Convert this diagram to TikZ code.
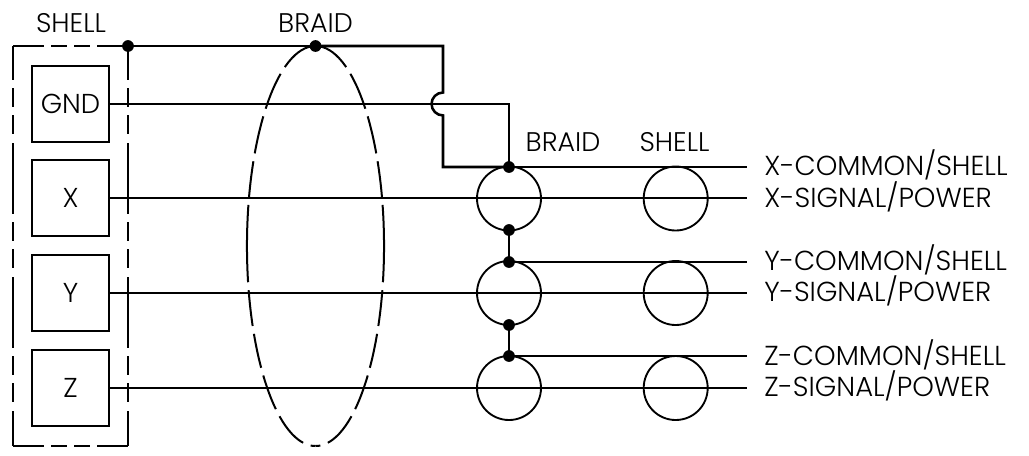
\documentclass[tikz,border=0pt]{standalone}
\usepackage{fontspec}
\setmainfont{Poppins Light}
\usetikzlibrary{calc}
\tikzset{
  wire/.style={line width=1.5pt,line cap=butt},
  braidwire/.style={line width=1.9pt,line join=miter},
  unit/.style={draw=black,line width=1.4pt,minimum width=57.5pt,minimum height=57.5pt,inner sep=0pt,font=\fontsize{20.5}{20.5}\selectfont},
  ring/.style={circle,draw=black,line width=1.4pt,minimum size=48pt,inner sep=0pt},
  dot/.style={circle,fill=black,minimum size=8.8pt,inner sep=0pt},
  lab/.style={inner sep=0pt,font=\fontsize{20.2}{20.2}\selectfont,anchor=base},
  rlab/.style={inner sep=0pt,font=\fontsize{20.6}{20.6}\selectfont,anchor=base west},
  shellv/.style={line width=1.5pt,dash pattern=on 53.25pt off 6pt on 14.25pt off 6pt on 14.25pt off 6.75pt,dash phase=27.75pt},
  shellh/.style={line width=1.5pt,dash pattern=on 23.25pt off 5.25pt on 12pt off 5.25pt on 12pt off 5.25pt on 23.25pt off 10pt},
  bra/.style={line width=1.5pt,dash pattern=on 29pt off 6pt on 28.5pt off 6pt on 28.5pt off 6pt on 27pt off 6pt on 58pt off 6pt on 27pt off 6pt on 26pt off 6pt on 27pt off 6pt on 27pt off 6pt on 13pt off 100pt},
}
\begin{document}
\begin{tikzpicture}[x=0.75pt,y=-0.75pt]
\useasboundingbox (0,0) rectangle (1029,455);
% shell corners
\coordinate (stl) at (13,46);
\coordinate (str) at (128,46);
\coordinate (sbl) at (13,446);
\coordinate (sbr) at (128,446);
% boxes
\node[unit] (gnd) at (70.5,104) {GND};
\node[unit] (x) at (70.5,198) {X};
\node[unit] (y) at (70.5,293) {Y};
\node[unit] (z) at (70.5,388) {Z};
% rings
\node[ring] (bx) at (509,198.5) {};
\node[ring] (by) at (509,293) {};
\node[ring] (bz) at (509,388) {};
\node[ring] (sx) at (675.7,198.5) {};
\node[ring] (sy) at (675.7,293) {};
\node[ring] (sz) at (675.7,388) {};
% dots
\node[dot] (d0) at (128,46) {};
\node[dot] (d1) at (315.5,46) {};
\node[dot] (dx) at (509,167) {};
\node[dot] (dxb) at (509,230) {};
\node[dot] (dy) at (509,262) {};
\node[dot] (dyb) at (509,325) {};
\node[dot] (dz) at (509,356) {};
% free wire ends
\coordinate (ex) at (747,167);
\coordinate (ey) at (747,262);
\coordinate (ez) at (747,356);
\coordinate (fx) at (747,198);
\coordinate (fy) at (747,293);
\coordinate (fz) at (747,388);
\coordinate (j1) at (443,46);
\coordinate (j2) at (443,92.5);
\coordinate (j4) at (443,167);
\coordinate (g1) at (509,104);
% shell outline
\draw[shellv] (stl) -- (sbl);
\draw[shellv] (str) -- (sbr);
\draw[shellh] (stl) -- (str);
\draw[shellh] (sbl) -- (sbr);
% braid ellipse
\draw[bra] (d1.center) arc[start angle=90,end angle=270,x radius=51.4pt,y radius=150pt];
\draw[bra] (d1.center) arc[start angle=90,end angle=-90,x radius=51.4pt,y radius=150pt];
% wires
\draw[wire] (d0.center) -- (d1.center);
\draw[braidwire] (d1.center) -- (j1) -- (j2) arc[start angle=90,end angle=270,radius=8.6pt] -- (j4) -- (dx.center);
\draw[wire] (gnd.east) -- (g1) -- (dx.center);
\draw[wire] (x.east) -- (fx);
\draw[wire] (y.east) -- (fy);
\draw[wire] (z.east) -- (fz);
\draw[wire] (dx.center) -- (ex);
\draw[wire] (dy.center) -- (ey);
\draw[wire] (dz.center) -- (ez);
\draw[wire] (dxb.center) -- (dy.center);
\draw[wire] (dyb.center) -- (dz.center);
% labels
\node[lab] (t1) at (71,32) {SHELL};
\node[lab] (t2) at (315.5,32) {BRAID};
\node[lab] (t3) at (563,151) {BRAID};
\node[lab] (t4) at (674.5,151) {SHELL};
\node[rlab] (l1) at (764,175) {X-COMMON/SHELL};
\node[rlab] (l2) at (764,207) {X-SIGNAL/POWER};
\node[rlab] (l3) at (764,270) {Y-COMMON/SHELL};
\node[rlab] (l4) at (764,301.5) {Y-SIGNAL/POWER};
\node[rlab] (l5) at (764,365) {Z-COMMON/SHELL};
\node[rlab] (l6) at (764,396.5) {Z-SIGNAL/POWER};
\end{tikzpicture}
\end{document}
